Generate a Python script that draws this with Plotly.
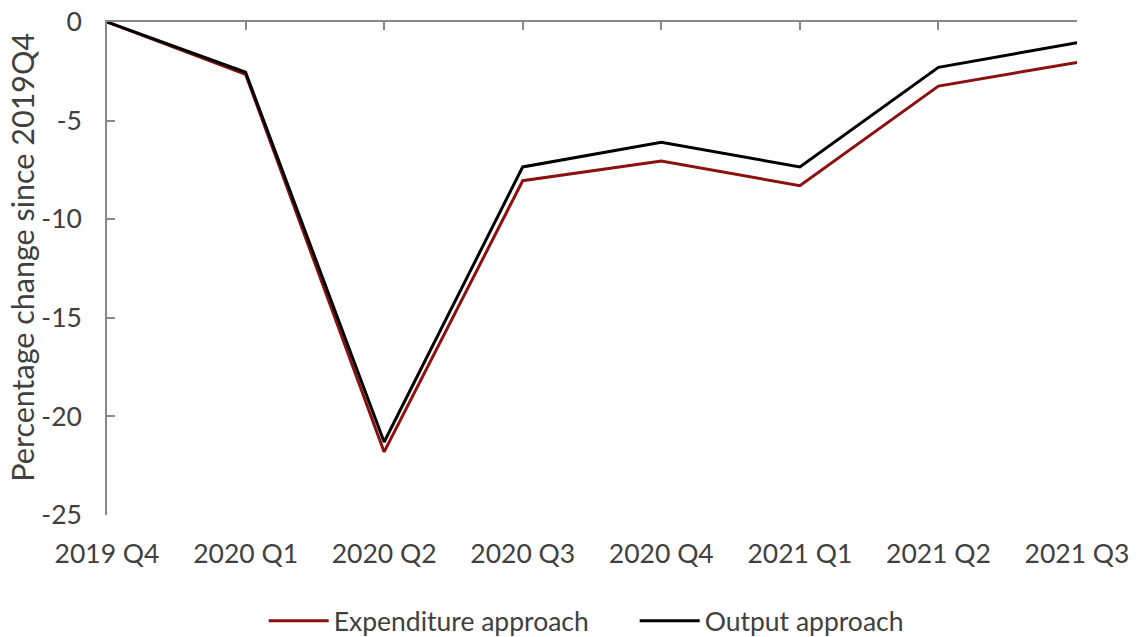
import plotly.graph_objects as go

quarters = ["2019 Q4", "2020 Q1", "2020 Q2", "2020 Q3", "2020 Q4", "2021 Q1", "2021 Q2", "2021 Q3"]
expenditure = [0, -2.65, -21.8, -8.05, -7.05, -8.3, -3.25, -2.05]
output = [0, -2.55, -21.3, -7.35, -6.1, -7.35, -2.3, -1.05]
y_ticks = [0, -5, -10, -15, -20, -25]
y_tick_text = ["0", "-5", "-10", "-15", "-20", "-25"]
y_title = "Percentage change since 2019Q4"

FONT = "Lato"
SIZE = 26.5
TEXT = "#404040"
AXIS = "#888888"
pos = list(range(len(quarters)))

fig = go.Figure()
fig.add_trace(go.Scatter(x=pos, y=expenditure, mode="lines", name="Expenditure approach",
                         line=dict(color="#8B1010", width=3)))
fig.add_trace(go.Scatter(x=pos, y=output, mode="lines", name="Output approach",
                         line=dict(color="#000000", width=3)))
# invisible trace to carry the top category axis line
fig.add_trace(go.Scatter(x=pos, y=[0] * len(pos), xaxis="x2", mode="lines",
                         line=dict(width=0), showlegend=False, hoverinfo="skip"))

fig.update_layout(
    width=1137, height=637,
    margin=dict(l=107, r=60, t=22, b=122, autoexpand=False),
    plot_bgcolor="white", paper_bgcolor="white",
    font=dict(family=FONT, size=SIZE, color=TEXT),
    xaxis=dict(range=[0, 7], tickvals=pos, ticktext=quarters, showline=False,
               showgrid=False, zeroline=False, ticks="", ticklabelstandoff=20,
               automargin=False, tickfont=dict(size=SIZE, color=TEXT)),
    xaxis2=dict(range=[0, 7], overlaying="x", side="top", anchor="y", tickvals=pos,
                showticklabels=False, showline=True, linecolor=AXIS, linewidth=1.5,
                ticks="inside", ticklen=8, tickcolor=AXIS, tickwidth=1.5,
                showgrid=False, zeroline=False, automargin=False),
    yaxis=dict(range=[-25, 0], tickvals=y_ticks, ticktext=y_tick_text, showline=True,
               linecolor=AXIS, linewidth=1.5, ticks="inside", ticklen=8, tickcolor=AXIS,
               tickwidth=1.5, showgrid=False, zeroline=False, ticklabelstandoff=18,
               automargin=False, tickfont=dict(size=SIZE, color=TEXT)),
    annotations=[dict(text=y_title, xref="paper", yref="paper", x=-0.0876, y=0.522,
                      xanchor="center", yanchor="middle", textangle=-90, showarrow=False,
                      font=dict(size=30.5, color=TEXT))],
    legend=dict(orientation="h", x=0.544, xanchor="center", yref="container", y=0.025,
                yanchor="middle", font=dict(size=SIZE, color=TEXT), entrywidth=296,
                itemwidth=60),
    showlegend=True,
)

fig.write_html("out.html")
